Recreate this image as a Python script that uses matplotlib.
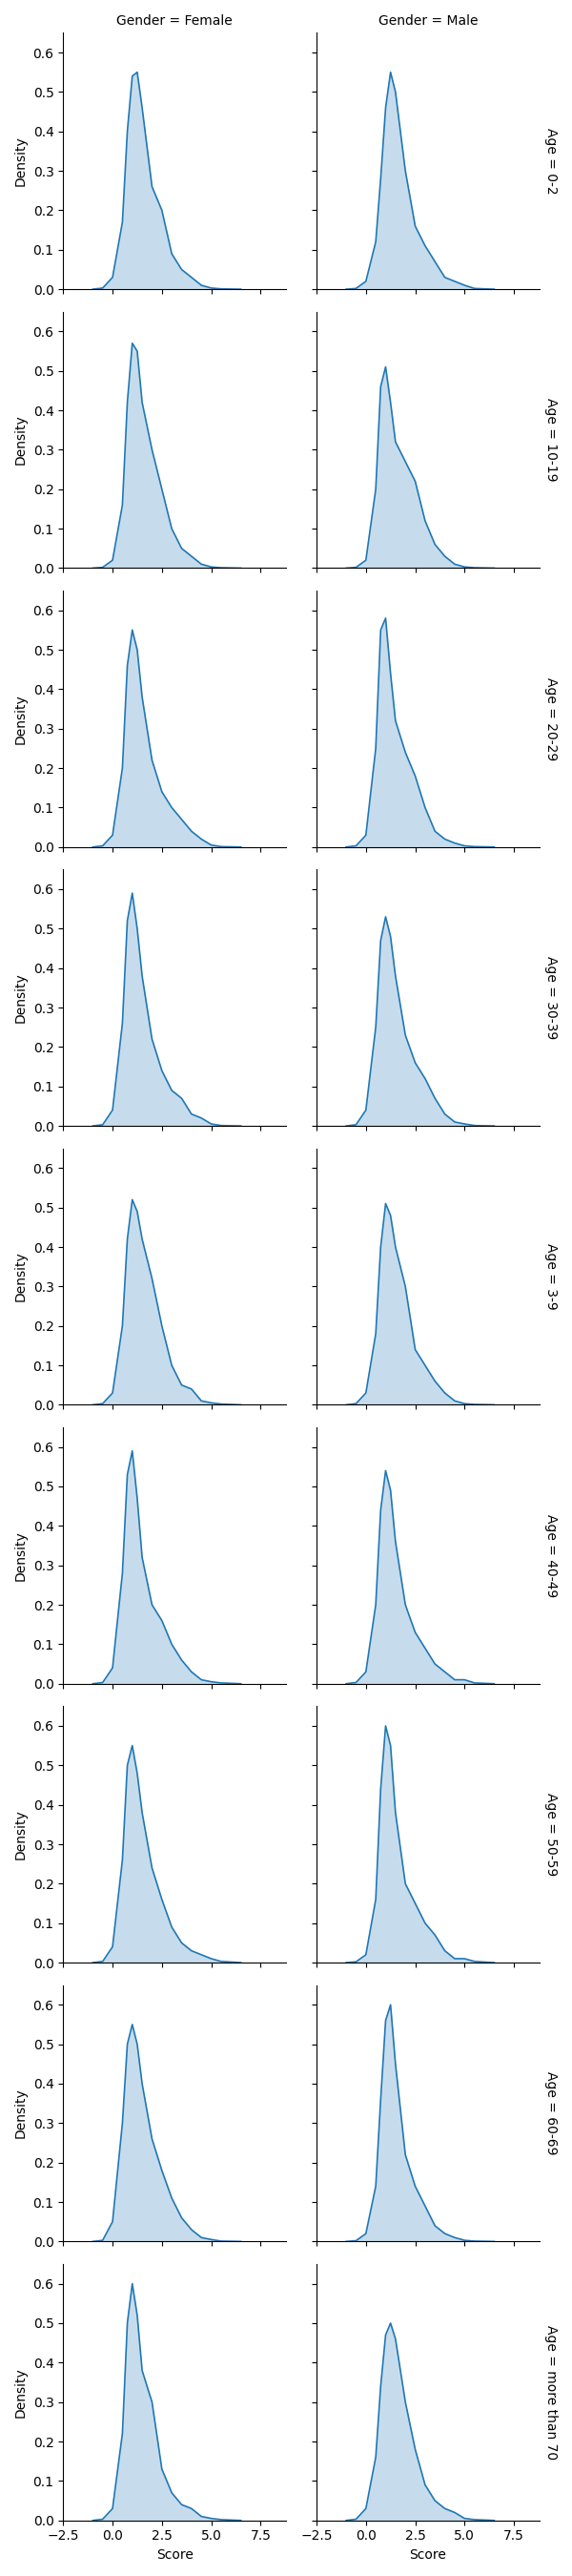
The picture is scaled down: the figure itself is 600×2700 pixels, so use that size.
import matplotlib
matplotlib.use("Agg")
import matplotlib.pyplot as plt
import seaborn as sns
import pandas as pd

ages = ["0-2", "10-19", "20-29", "30-39", "3-9", "40-49", "50-59", "60-69", "more than 70"]
genders = ["Female", "Male"]
score_grid = [-1.0, -0.5, 0.0, 0.5, 0.75, 1.0, 1.25, 1.5, 2.0, 2.5, 3.0, 3.5, 4.0, 4.5, 5.0, 5.5, 6.5]

density = {
    ("0-2", "Female"):   [0, 0.003, 0.03, 0.17, 0.40, 0.54, 0.55, 0.46, 0.26, 0.20, 0.09, 0.05, 0.03, 0.01, 0.003, 0.001, 0],
    ("0-2", "Male"):     [0, 0.002, 0.02, 0.12, 0.28, 0.46, 0.55, 0.50, 0.30, 0.16, 0.11, 0.07, 0.03, 0.02, 0.01, 0.002, 0],
    ("10-19", "Female"): [0, 0.002, 0.02, 0.16, 0.42, 0.57, 0.55, 0.42, 0.30, 0.20, 0.10, 0.05, 0.03, 0.01, 0.003, 0.001, 0],
    ("10-19", "Male"):   [0, 0.002, 0.02, 0.20, 0.46, 0.51, 0.42, 0.32, 0.27, 0.22, 0.12, 0.06, 0.03, 0.01, 0.003, 0.001, 0],
    ("20-29", "Female"): [0, 0.003, 0.03, 0.20, 0.46, 0.55, 0.50, 0.38, 0.22, 0.14, 0.10, 0.07, 0.04, 0.02, 0.005, 0.001, 0],
    ("20-29", "Male"):   [0, 0.003, 0.03, 0.25, 0.55, 0.58, 0.44, 0.32, 0.24, 0.18, 0.10, 0.04, 0.02, 0.01, 0.003, 0.001, 0],
    ("30-39", "Female"): [0, 0.003, 0.04, 0.26, 0.52, 0.59, 0.50, 0.38, 0.22, 0.14, 0.09, 0.07, 0.03, 0.02, 0.005, 0.001, 0],
    ("30-39", "Male"):   [0, 0.003, 0.04, 0.25, 0.47, 0.53, 0.48, 0.38, 0.23, 0.16, 0.12, 0.07, 0.03, 0.01, 0.005, 0.001, 0],
    ("3-9", "Female"):   [0, 0.003, 0.03, 0.20, 0.42, 0.52, 0.49, 0.42, 0.32, 0.20, 0.10, 0.05, 0.04, 0.01, 0.005, 0.002, 0],
    ("3-9", "Male"):     [0, 0.003, 0.03, 0.18, 0.40, 0.51, 0.48, 0.40, 0.30, 0.14, 0.10, 0.06, 0.03, 0.01, 0.003, 0.001, 0],
    ("40-49", "Female"): [0, 0.003, 0.04, 0.28, 0.53, 0.59, 0.47, 0.32, 0.20, 0.16, 0.10, 0.06, 0.03, 0.01, 0.005, 0.002, 0],
    ("40-49", "Male"):   [0, 0.003, 0.03, 0.20, 0.44, 0.54, 0.49, 0.36, 0.20, 0.13, 0.09, 0.05, 0.03, 0.01, 0.01, 0.002, 0],
    ("50-59", "Female"): [0, 0.003, 0.04, 0.26, 0.50, 0.55, 0.48, 0.38, 0.24, 0.16, 0.09, 0.05, 0.03, 0.02, 0.01, 0.003, 0],
    ("50-59", "Male"):   [0, 0.002, 0.02, 0.16, 0.44, 0.60, 0.55, 0.38, 0.20, 0.15, 0.10, 0.07, 0.03, 0.01, 0.01, 0.003, 0],
    ("60-69", "Female"): [0, 0.003, 0.05, 0.30, 0.50, 0.55, 0.50, 0.40, 0.26, 0.18, 0.11, 0.06, 0.03, 0.01, 0.005, 0.001, 0],
    ("60-69", "Male"):   [0, 0.002, 0.02, 0.14, 0.36, 0.56, 0.60, 0.45, 0.22, 0.14, 0.09, 0.04, 0.02, 0.01, 0.003, 0.001, 0],
    ("more than 70", "Female"): [0, 0.003, 0.03, 0.22, 0.50, 0.60, 0.52, 0.38, 0.30, 0.13, 0.07, 0.04, 0.03, 0.01, 0.005, 0.002, 0],
    ("more than 70", "Male"):   [0, 0.003, 0.03, 0.16, 0.34, 0.47, 0.50, 0.46, 0.30, 0.18, 0.09, 0.05, 0.03, 0.02, 0.005, 0.002, 0],
}

rows = []
for (a, g), vals in density.items():
    for x, d in zip(score_grid, vals):
        rows.append({"Age": a, "Gender": g, "Score": x, "Density": d})
df = pd.DataFrame(rows)

def draw(data, **kw):
    ax = plt.gca()
    ax.plot(data["Score"], data["Density"], color="#1f77b4", lw=1.2)
    ax.fill_between(data["Score"], data["Density"], color="#1f77b4", alpha=0.25, lw=0)

g = sns.FacetGrid(df, row="Age", col="Gender", row_order=ages, col_order=genders,
                  margin_titles=True, height=3, aspect=1)
g.map_dataframe(draw)
g.set(xlim=(-2.5, 8.8), ylim=(0, 0.65), xticks=[-2.5, 0, 2.5, 5, 7.5])
g.set_axis_labels("Score", "Density")
g.tight_layout()
g.figure.savefig("out.png", dpi=100)
